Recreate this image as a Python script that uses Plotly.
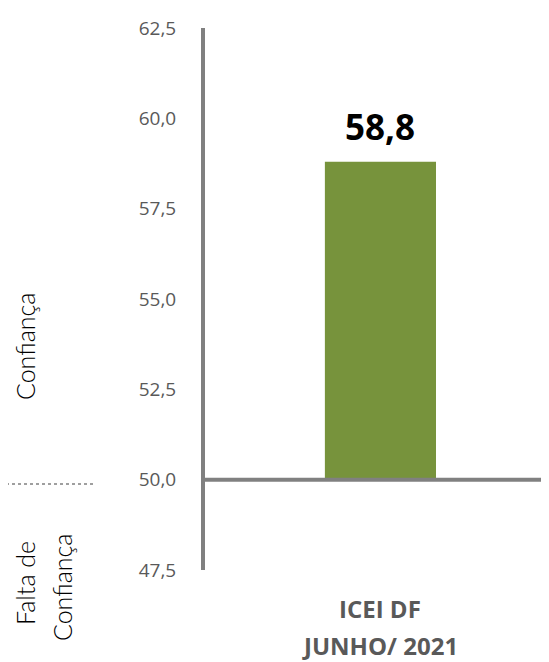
import plotly.graph_objects as go

categories = ["ICEI DF\nJUNHO/ 2021"]
values = [58.8]
baseline = 50.0
tick_vals = [47.5, 50.0, 52.5, 55.0, 57.5, 60.0, 62.5]
tick_text = ["47,5", "50,0", "52,5", "55,0", "57,5", "60,0", "62,5"]

OFF = 8  # page body margin
W, H = 549 - OFF, 662 - OFF
# desired page-pixel plot box
PL, PR, PT, PB = 205, 549, 28, 570
ml, mr, mt, mb = PL - OFF, (549 - PR), PT - OFF, (662 - PB)
pw = W - ml - mr
ph = H - mt - mb

def px_x(x):
    return (x - OFF - ml) / pw

def px_y(y):
    return (H - mb - (y - OFF)) / ph

fig = go.Figure()
fig.add_trace(go.Bar(
    x=categories,
    y=[v - baseline for v in values],
    base=[baseline] * len(values),
    width=0.323,
    marker=dict(color="#77933C", line=dict(width=0)),
    hoverinfo="skip",
))

for c, v in zip(categories, values):
    fig.add_annotation(text=f"<b>{v:.1f}</b>".replace(".", ","), xref="x", yref="y", x=c, y=v,
                       showarrow=False, xanchor="center", yanchor="bottom", yshift=10,
                       font=dict(family="Open Sans", size=35, color="#000000"))

fig.add_shape(type="line", xref="paper", yref="y", x0=0, x1=1, y0=baseline, y1=baseline,
              line=dict(color="#808080", width=4), layer="above")
fig.add_shape(type="line", xref="paper", yref="paper", x0=px_x(0), x1=px_x(95),
              y0=px_y(484), y1=px_y(484), line=dict(color="#404040", width=1.2, dash="dot"))

left_font = dict(family="Lato", size=25, color="#000000", weight=300)
fig.add_annotation(text="Confiança", xref="paper", yref="paper", x=px_x(25), y=px_y(347),
                   textangle=-90, showarrow=False, xanchor="center", yanchor="middle",
                   font=left_font)
fig.add_annotation(text="Falta de", xref="paper", yref="paper", x=px_x(25), y=px_y(583),
                   textangle=-90, showarrow=False, xanchor="center", yanchor="middle",
                   font=left_font)
fig.add_annotation(text="Confiança", xref="paper", yref="paper", x=px_x(62), y=px_y(588),
                   textangle=-90, showarrow=False, xanchor="center", yanchor="middle",
                   font=left_font)

# category labels (two lines with wide spacing)
cat_font = dict(family="Open Sans", size=24, color="#595959", weight="bold")
for c in categories:
    lines = c.split("\n")
    for i, ln in enumerate(lines):
        fig.add_annotation(text=ln, xref="x", yref="paper", x=c, y=px_y(608 + 38 * i),
                           showarrow=False, xanchor="center", yanchor="middle",
                           borderpad=0, font=cat_font)

fig.update_layout(
    width=W, height=H,
    margin=dict(l=ml, r=mr, t=mt, b=mb),
    paper_bgcolor="white", plot_bgcolor="white",
    showlegend=False,
    xaxis=dict(type="category", range=[-0.51, 0.49], showline=False, showgrid=False,
               zeroline=False, ticks="", showticklabels=False),
    yaxis=dict(range=[47.5, 62.5], tickvals=tick_vals, ticktext=tick_text,
               showgrid=False, zeroline=False, showline=True, linecolor="#808080",
               linewidth=4, ticks="", ticklabelstandoff=21,
               tickfont=dict(family="Open Sans", size=19, color="#595959")),
)

fig.write_html("out.html")
